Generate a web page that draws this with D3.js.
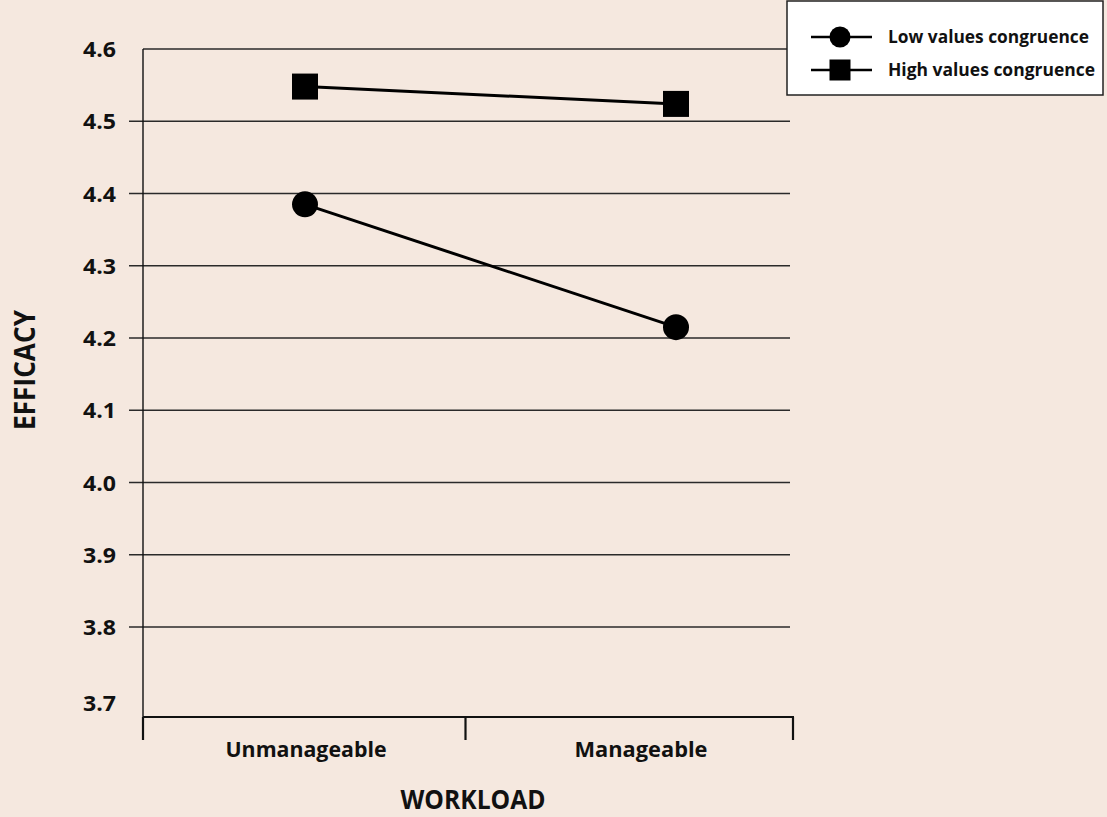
<!DOCTYPE html>
<html>
<head>
<meta charset="utf-8">
<script src="https://cdn.jsdelivr.net/npm/d3@7"></script>
<style>
html,body{margin:0;padding:0;background:#f5e8df;}
svg{display:block;}
text{font-family:"Open Sans","Noto Sans",sans-serif;font-weight:700;fill:#111;}
</style>
</head>
<body>
<svg id="chart" width="1107" height="817"></svg>
<script>
const categories = ["Unmanageable", "Manageable"];
const lowValues = [4.385, 4.215];
const highValues = [4.548, 4.524];
const seriesNames = ["Low values congruence", "High values congruence"];
const yTicks = [3.7, 3.8, 3.9, 4.0, 4.1, 4.2, 4.3, 4.4, 4.5, 4.6];
const xTitle = "WORKLOAD";
const yTitle = "EFFICACY";

const svg = d3.select("#chart");
svg.append("rect").attr("width", 1107).attr("height", 817).attr("fill", "#f5e8df");

const axisLeftX = 143, axisRightX = 794, baseY = 717, gridRight = 790;
const y = d3.scaleLinear().domain([3.8, 4.6]).range([627, 49]);
const xBand = d3.scaleBand().domain(categories).range([axisLeftX, axisRightX]).padding(0);
const xPoint = d3.scalePoint().domain(categories).range([305, 676]);
const xLabel = d3.scalePoint().domain(categories).range([306, 641]);

// fit text to a measured width
function fit(sel, w) {
  sel.attr("textLength", w).attr("lengthAdjust", "spacingAndGlyphs");
  return sel;
}

// gridlines
const grid = svg.append("g");
yTicks.filter(t => t >= 3.75).forEach(t => {
  grid.append("line")
    .attr("x1", t > 4.55 ? axisLeftX : 129).attr("x2", gridRight)
    .attr("y1", y(t)).attr("y2", y(t))
    .attr("stroke", "#2a2a2a").attr("stroke-width", 1.3);
});
// y tick labels
svg.append("g").selectAll("text").data(yTicks).join("text")
  .attr("x", 116).attr("y", d => y(d) + (d < 3.75 ? 12 : 8))
  .attr("text-anchor", "end")
  .style("font-size", "21px")
  .attr("textLength", 33).attr("lengthAdjust", "spacingAndGlyphs")
  .text(d => d3.format(".1f")(d));

// y axis line
svg.append("line").attr("x1", axisLeftX).attr("x2", axisLeftX).attr("y1", 49).attr("y2", baseY)
  .attr("stroke", "#111").attr("stroke-width", 1.4);

// x axis baseline and ticks
svg.append("line").attr("x1", axisLeftX).attr("x2", axisRightX).attr("y1", baseY).attr("y2", baseY)
  .attr("stroke", "#111").attr("stroke-width", 2.2);
const tickXs = [xBand(categories[0]), xBand(categories[1]) - 3, xBand(categories[1]) + xBand.bandwidth() - 1];
tickXs.forEach(tx => {
  svg.append("line").attr("x1", tx).attr("x2", tx).attr("y1", baseY).attr("y2", 740)
    .attr("stroke", "#111").attr("stroke-width", 2.2);
});
const labelW = [161, 133];
svg.append("g").selectAll("text").data(categories).join("text")
  .attr("x", d => xLabel(d)).attr("y", 757)
  .attr("text-anchor", "middle").style("font-size", "22px")
  .attr("textLength", (d, i) => labelW[i]).attr("lengthAdjust", "spacingAndGlyphs")
  .text(d => d);

// titles
fit(svg.append("text").attr("x", 473).attr("y", 809).attr("text-anchor", "middle")
  .style("font-size", "26px").text(xTitle), 145);
fit(svg.append("text").attr("transform", "translate(35,370) rotate(-90)").attr("text-anchor", "middle")
  .style("font-size", "29px").text(yTitle), 120);

// series
const line = d3.line().x((d, i) => xPoint(categories[i])).y(d => y(d));
[lowValues, highValues].forEach(vals => {
  svg.append("path").datum(vals).attr("d", line).attr("fill", "none")
    .attr("stroke", "#000").attr("stroke-width", 3);
});
svg.append("g").selectAll("circle").data(lowValues).join("circle")
  .attr("cx", (d, i) => xPoint(categories[i])).attr("cy", d => y(d)).attr("r", 13).attr("fill", "#000");
const sq = 26;
svg.append("g").selectAll("rect").data(highValues).join("rect")
  .attr("x", (d, i) => xPoint(categories[i]) - sq / 2).attr("y", d => y(d) - sq / 2)
  .attr("width", sq).attr("height", sq).attr("fill", "#000");

// legend
const lg = svg.append("g");
lg.append("rect").attr("x", 787).attr("y", 1).attr("width", 316).attr("height", 94)
  .attr("fill", "#fff").attr("stroke", "#222").attr("stroke-width", 1.5);
const legY = [37, 70];
const legW = [201, 207];
seriesNames.forEach((name, i) => {
  lg.append("line").attr("x1", 811).attr("x2", 872).attr("y1", legY[i]).attr("y2", legY[i])
    .attr("stroke", "#000").attr("stroke-width", 2.5);
  if (i === 0) lg.append("circle").attr("cx", 840).attr("cy", legY[i]).attr("r", 10.5).attr("fill", "#000");
  else lg.append("rect").attr("x", 829.5).attr("y", legY[i] - 10.5).attr("width", 21).attr("height", 21).attr("fill", "#000");
  fit(lg.append("text").attr("x", 888).attr("y", legY[i] + 6)
    .style("font-size", "18px").text(name), legW[i]);
});
</script>
</body>
</html>
